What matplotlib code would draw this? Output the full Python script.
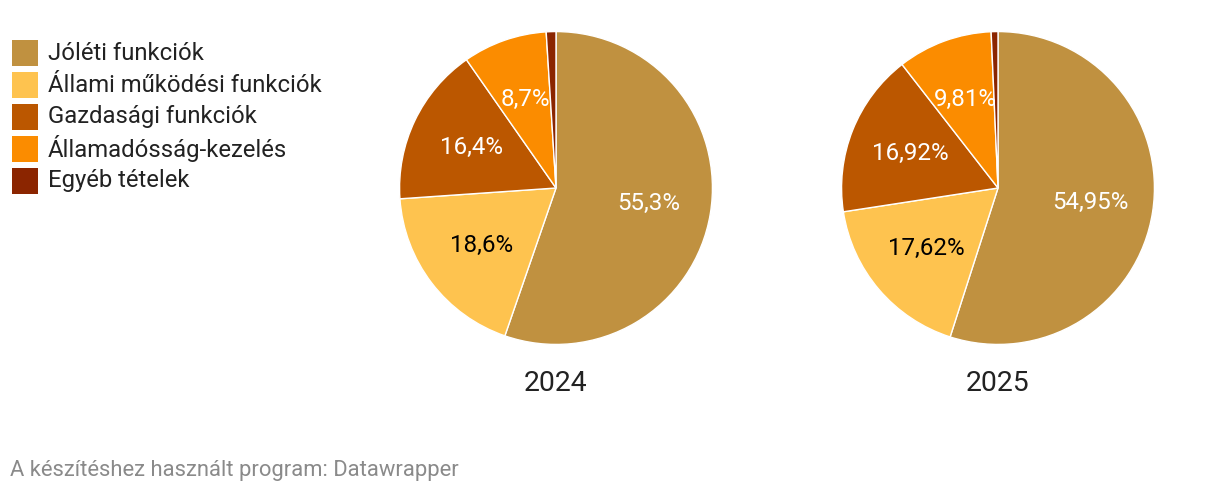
import matplotlib.pyplot as plt
from matplotlib.patches import Rectangle

plt.rcParams['font.family'] = ['Roboto', 'DejaVu Sans']

categories = ["Jóléti funkciók", "Állami működési funkciók", "Gazdasági funkciók",
              "Államadósság-kezelés", "Egyéb tételek"]
colors = ["#c09140", "#fec34f", "#bb5700", "#fb8c00", "#8b2500"]
label_colors = ["white", "black", "white", "white", "white"]
years = ["2024", "2025"]
values_2024 = [55.3, 18.6, 16.4, 8.7, 1.0]
values_2025 = [54.95, 17.62, 16.92, 9.81, 0.70]
decimals = [1, 2]

W, H = 1220, 494
fig = plt.figure(figsize=(W / 100, H / 100), dpi=100)

# legend
for i, (cat, col) in enumerate(zip(categories, colors)):
    cy = 53 + i * 32
    fig.add_artist(Rectangle((12 / W, (H - cy - 13) / H), 26 / W, 26 / H,
                             facecolor=col, edgecolor="none", transform=fig.transFigure))
    fig.text(48 / W, (H - cy) / H, cat, fontsize=17.2, color="#222222",
             va="center", ha="left")

centers = [556, 998]
r = 158
cy = 188
for cx, year, vals, dec in zip(centers, years, [values_2024, values_2025], decimals):
    ax = fig.add_axes([(cx - r) / W, (H - cy - r) / H, 2 * r / W, 2 * r / H])
    wedges, texts, autotexts = ax.pie(
        vals, colors=colors, startangle=90, counterclock=False,
        wedgeprops=dict(edgecolor="white", linewidth=1),
        autopct=lambda p, d=dec: (f"{p:.{d}f}%".replace(".", ",") if p > 3 else ""),
        pctdistance=0.6)
    for t, c in zip(autotexts, label_colors):
        t.set_color(c)
        t.set_fontsize(17.4)
    ax.set_xlim(-1.01, 1.01)
    ax.set_ylim(-1.01, 1.01)
    fig.text(cx / W, (H - 383) / H, year, fontsize=20.4, color="#222222",
             ha="center", va="center")

fig.text(10 / W, (H - 470) / H, "A készítéshez használt program: Datawrapper",
         fontsize=15.8, color="#8a8a8a", ha="left", va="center")

fig.savefig("out.png", dpi=100)
